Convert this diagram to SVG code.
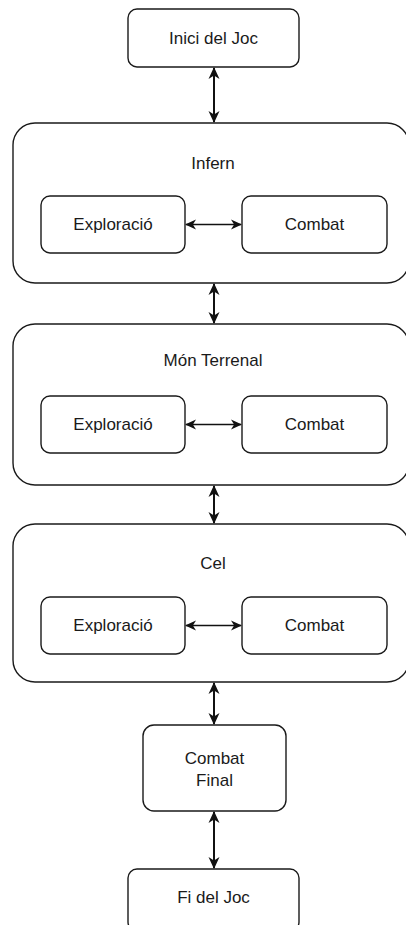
<svg xmlns="http://www.w3.org/2000/svg" width="406" height="925" viewBox="0 0 406 925">
<style>
.box{fill:#fff;stroke:#1a1a1a;stroke-width:1.4}
.t{font-family:"Liberation Sans",Arial,sans-serif;font-size:17px;fill:#1a1a1a;text-anchor:middle;dominant-baseline:central}
.v{stroke:#111;stroke-width:2;fill:none}
.h{stroke:#111;stroke-width:1.4;fill:none}
</style>
<defs>
<marker id="ah" viewBox="0 0 12 12" refX="11" refY="6" markerWidth="11" markerHeight="11" orient="auto-start-reverse" markerUnits="userSpaceOnUse">
<path d="M0,0.5 L12,6 L0,11.5 L3.5,6 Z" fill="#111"/>
</marker>
<marker id="ahs" viewBox="0 0 12 12" refX="11" refY="6" markerWidth="12" markerHeight="12" orient="auto-start-reverse" markerUnits="userSpaceOnUse">
<path d="M0,0.5 L12,6 L0,11.5 L3.5,6 Z" fill="#111"/>
</marker>
</defs>
<rect width="406" height="925" fill="#fff"/>
<g id="inici"><rect class="box" x="128" y="9" width="171" height="58" rx="9"/><text class="t" x="213.5" y="38">Inici del Joc</text></g>
<g id="infern"><rect class="box" x="13" y="123" width="396" height="160" rx="22"/><text class="t" x="213" y="163">Infern</text>
<g id="infern-exploracio"><rect class="box" x="41" y="196" width="144" height="57" rx="9"/><text class="t" x="113" y="224.5">Exploració</text></g>
<g id="infern-combat"><rect class="box" x="242" y="196" width="145" height="57" rx="9"/><text class="t" x="314.5" y="224.5">Combat</text></g></g>
<g id="mon"><rect class="box" x="13" y="324" width="396" height="161" rx="22"/><text class="t" x="213" y="360">Món Terrenal</text>
<g id="mon-exploracio"><rect class="box" x="41" y="396" width="144" height="57" rx="9"/><text class="t" x="113" y="424.5">Exploració</text></g>
<g id="mon-combat"><rect class="box" x="242" y="396" width="145" height="57" rx="9"/><text class="t" x="314.5" y="424.5">Combat</text></g></g>
<g id="cel"><rect class="box" x="13" y="524" width="396" height="158" rx="22"/><text class="t" x="213" y="563">Cel</text>
<g id="cel-exploracio"><rect class="box" x="41" y="597" width="144" height="57" rx="9"/><text class="t" x="113" y="625.5">Exploració</text></g>
<g id="cel-combat"><rect class="box" x="242" y="597" width="145" height="57" rx="9"/><text class="t" x="314.5" y="625.5">Combat</text></g></g>
<g id="combat-final"><rect class="box" x="143" y="725" width="143" height="86" rx="11"/><text class="t" x="214.5" y="758">Combat</text><text class="t" x="214.5" y="780">Final</text></g>
<g id="fi"><rect class="box" x="128" y="869" width="171" height="62" rx="9"/><text class="t" x="213.5" y="897">Fi del Joc</text></g>
<g id="connectors">
<line class="v" x1="214" y1="68" x2="214" y2="122" marker-start="url(#ahs)" marker-end="url(#ahs)"/>
<line class="v" x1="214" y1="284" x2="214" y2="323" marker-start="url(#ahs)" marker-end="url(#ahs)"/>
<line class="v" x1="214" y1="486" x2="214" y2="523" marker-start="url(#ahs)" marker-end="url(#ahs)"/>
<line class="v" x1="214" y1="683" x2="214" y2="724" marker-start="url(#ahs)" marker-end="url(#ahs)"/>
<line class="v" x1="214" y1="812" x2="214" y2="868" marker-start="url(#ahs)" marker-end="url(#ahs)"/>
<line class="h" x1="186" y1="224.5" x2="241" y2="224.5" marker-start="url(#ah)" marker-end="url(#ah)"/>
<line class="h" x1="186" y1="424.5" x2="241" y2="424.5" marker-start="url(#ah)" marker-end="url(#ah)"/>
<line class="h" x1="186" y1="625.5" x2="241" y2="625.5" marker-start="url(#ah)" marker-end="url(#ah)"/>
</g>
</svg>
